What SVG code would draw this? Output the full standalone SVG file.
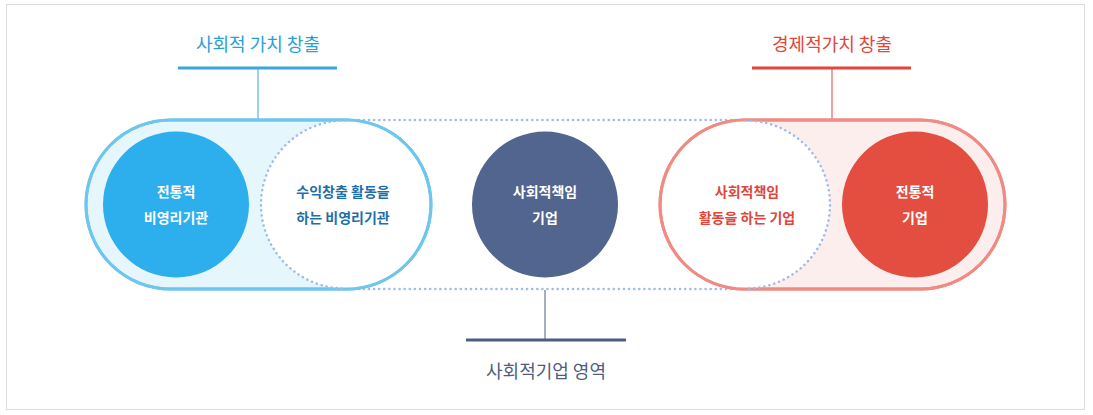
<svg xmlns="http://www.w3.org/2000/svg" width="1093" height="415" viewBox="0 0 1093 415">
<style>
text{font-family:"Noto Sans CJK KR","Noto Sans",sans-serif;text-anchor:middle}
.t{font-size:18px}
.n{font-size:14px;font-weight:bold}
.dot{fill:none;stroke:#9dbce8;stroke-width:2.5;stroke-dasharray:0.1 5;stroke-linecap:round}
</style>
<rect x="6.5" y="4.5" width="1078" height="405" fill="#fff" stroke="#dcdcdc"/>
<g id="connectors">
<line x1="178" y1="68" x2="337" y2="68" stroke="#3aa6de" stroke-width="3"/>
<line x1="258" y1="68" x2="258" y2="119" stroke="#3aa6de" stroke-width="1"/>
<line x1="752" y1="68" x2="911" y2="68" stroke="#e0463b" stroke-width="3"/>
<line x1="832" y1="68" x2="832" y2="119" stroke="#e0463b" stroke-width="1"/>
<line x1="466" y1="340" x2="626" y2="340" stroke="#4e5d82" stroke-width="3"/>
<line x1="545" y1="290" x2="545" y2="340" stroke="#4e5d82" stroke-width="1"/>
</g>
<g id="social-area">
<rect class="dot" x="259" y="120" width="572" height="169" rx="84.5"/>
</g>
<g id="left-pill">
<rect x="86" y="120" width="345" height="169" rx="84.5" fill="#e5f6fc" stroke="#6ec6ef" stroke-width="3"/>
<circle cx="345" cy="204.5" r="84" fill="#fff"/>
<rect x="86" y="120" width="345" height="169" rx="84.5" fill="none" stroke="#6ec6ef" stroke-width="3"/>
<path class="dot" d="M345,120.5 A84,84 0 0 0 345,288.5"/>
</g>
<g id="right-pill">
<rect x="660" y="120" width="345" height="169" rx="84.5" fill="#fdeeee" stroke="#f08b84" stroke-width="3"/>
<circle cx="746" cy="204.5" r="84" fill="#fff"/>
<rect x="660" y="120" width="345" height="169" rx="84.5" fill="none" stroke="#f08b84" stroke-width="3"/>
<path class="dot" d="M746,120.5 A84,84 0 0 1 746,288.5"/>
</g>
<g id="node-left">
<circle cx="176" cy="204.5" r="73" fill="#2cafec"/>
<text class="n" x="176" y="197" fill="#fff">전통적</text>
<text class="n" x="176" y="223" fill="#fff">비영리기관</text>
</g>
<g id="node-left2">
<text class="n" x="343" y="197" fill="#1f6fa8">수익창출 활동을</text>
<text class="n" x="343" y="223" fill="#1f6fa8">하는 비영리기관</text>
</g>
<g id="node-center">
<circle cx="545" cy="204.5" r="73" fill="#52658e"/>
<text class="n" x="545" y="197" fill="#fff">사회적책임</text>
<text class="n" x="545" y="223" fill="#fff">기업</text>
</g>
<g id="node-right2">
<text class="n" x="747" y="197" fill="#e0463b">사회적책임</text>
<text class="n" x="747" y="223" fill="#e0463b">활동을 하는 기업</text>
</g>
<g id="node-right">
<circle cx="915" cy="204.5" r="73" fill="#e34e40"/>
<text class="n" x="915" y="197" fill="#fff">전통적</text>
<text class="n" x="915" y="223" fill="#fff">기업</text>
</g>
<g id="labels">
<text class="t" x="258" y="51" fill="#2a9fd8">사회적 가치 창출</text>
<text class="t" x="832" y="51" fill="#e0463b">경제적가치 창출</text>
<text class="t" x="546" y="378" fill="#4e5d82">사회적기업 영역</text>
</g>
</svg>
